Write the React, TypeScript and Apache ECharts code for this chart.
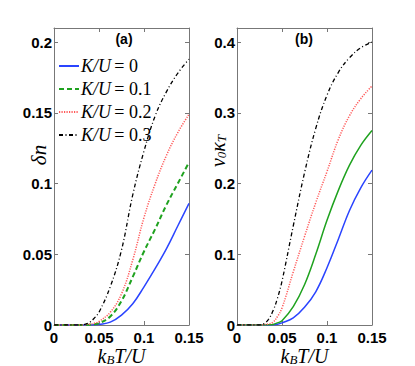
import React, { useEffect, useRef } from "react";
import * as echarts from "echarts";

const xs = [0, 0.0125, 0.025, 0.03, 0.035, 0.04, 0.045, 0.05, 0.0625, 0.075, 0.0875, 0.1, 0.1125, 0.125, 0.1375, 0.15];
const kLabels = ["0", "0.1", "0.2", "0.3"];

// panel (a): delta n
const blueA = [0, 0, 0, 0, 0, 0, 0.0001, 0.0004, 0.002, 0.007, 0.015, 0.027, 0.04, 0.054, 0.07, 0.086];
const greenA = [0, 0, 0, 0, 0, 0.0002, 0.0006, 0.0012, 0.006, 0.017, 0.034, 0.052, 0.068, 0.085, 0.1, 0.115];
const redA = [0, 0, 0, 0, 0.0002, 0.0006, 0.0013, 0.0025, 0.009, 0.022, 0.046, 0.076, 0.1, 0.12, 0.136, 0.149];
const blackA = [0, 0, 0, 0.0001, 0.0006, 0.002, 0.005, 0.009, 0.027, 0.053, 0.092, 0.123, 0.148, 0.165, 0.178, 0.188];

// panel (b): v0 kappa_T
const blueB = [0, 0, 0, 0, 0, 0.0003, 0.001, 0.003, 0.01, 0.025, 0.047, 0.081, 0.121, 0.162, 0.194, 0.219];
const greenB = [0, 0, 0, 0, 0.0002, 0.0008, 0.003, 0.006, 0.026, 0.057, 0.1, 0.148, 0.19, 0.226, 0.254, 0.275];
const redB = [0, 0, 0, 0.0005, 0.0015, 0.004, 0.012, 0.024, 0.075, 0.125, 0.173, 0.217, 0.262, 0.296, 0.32, 0.338];
const blackB = [0, 0, 0, 0.002, 0.008, 0.02, 0.038, 0.062, 0.14, 0.215, 0.278, 0.325, 0.357, 0.378, 0.392, 0.4];

const xTicks = { min: 0, max: 0.15, interval: 0.05 };
const yTicksA = { min: 0, max: 0.21, interval: 0.05 };
const yTicksB = { min: 0, max: 0.42, interval: 0.1 };

const FRAME = "#777777";
const SERIF = "'Liberation Serif', 'DejaVu Serif', serif";
const SANS = "'Liberation Sans', Arial, sans-serif";

const styles = [
  { color: "#2a44ff", type: "solid" as any, width: 1.5 },
  { color: "#1fa21f", type: [5, 3] as any, width: 2 },
  { color: "#ff5a5a", type: [1.2, 1.3] as any, width: 1.5 },
  { color: "#000000", type: [4, 2.5, 1, 2.5] as any, width: 1.3 },
];
const styles2 = [
  styles[0],
  { color: "#1fa21f", type: "solid" as any, width: 1.5 },
  styles[2],
  styles[3],
];

const zip = (ys: number[]) => xs.map((x, i) => [x, ys[i]]);

export default function App() {
  const ref = useRef<HTMLDivElement>(null);
  useEffect(() => {
    if (!ref.current) return;
    const chart = echarts.init(ref.current, null, { renderer: "svg" });

    const mkX = (grid: number, pos: "bottom" | "top") => ({
      type: "value",
      gridIndex: grid,
      position: pos,
      ...xTicks,
      axisLine: { show: true, onZero: false, lineStyle: { color: FRAME, width: 1 } },
      axisTick: { show: true, inside: true, length: 4, lineStyle: { color: FRAME } },
      axisLabel: {
        show: pos === "bottom",
        color: "#000",
        fontFamily: SANS,
        fontWeight: "bold",
        fontSize: 15,
        lineHeight: 13,
        margin: 6,
      },
      splitLine: { show: false },
    });
    const mkY = (grid: number, pos: "left" | "right", t: any) => ({
      type: "value",
      gridIndex: grid,
      position: pos,
      ...t,
      axisLine: { show: true, onZero: false, lineStyle: { color: FRAME, width: 1 } },
      axisTick: { show: true, inside: true, length: 4, lineStyle: { color: FRAME } },
      axisLabel: {
        show: pos === "left",
        showMaxLabel: false,
        color: "#000",
        fontFamily: SANS,
        fontWeight: "bold",
        fontSize: 15,
        margin: 2,
      },
      splitLine: { show: false },
    });

    const ysA = [blueA, greenA, redA, blackA];
    const ysB = [blueB, greenB, redB, blackB];
    const series: any[] = [];
    ysA.forEach((ys, i) =>
      series.push({
        type: "line",
        name: kLabels[i],
        xAxisIndex: 0,
        yAxisIndex: 0,
        data: zip(ys),
        symbol: "none",
        smooth: 0.4,
        lineStyle: styles[i],
        itemStyle: { color: styles[i].color },
      })
    );
    ysB.forEach((ys, i) =>
      series.push({
        type: "line",
        name: "b" + kLabels[i],
        xAxisIndex: 2,
        yAxisIndex: 2,
        data: zip(ys),
        symbol: "none",
        smooth: 0.4,
        lineStyle: styles2[i],
        itemStyle: { color: styles2[i].color },
      })
    );

    const richName = {
      i: { fontFamily: SERIF, fontStyle: "italic", fontSize: 20, lineHeight: 20, fill: "#000", color: "#000" },
      s: { fontFamily: SERIF, fontStyle: "italic", fontSize: 13, lineHeight: 8, verticalAlign: "bottom", fill: "#000", color: "#000" },
    };

    chart.setOption({
      animation: false,
      backgroundColor: "#ffffff",
      grid: [
        { left: 54, top: 28, width: 135, height: 297 },
        { left: 237, top: 28, width: 135, height: 297 },
      ],
      xAxis: [mkX(0, "bottom"), mkX(0, "top"), mkX(1, "bottom"), mkX(1, "top")],
      yAxis: [mkY(0, "left", yTicksA), mkY(0, "right", yTicksA), mkY(1, "left", yTicksB), mkY(1, "right", yTicksB)],
      legend: {
        data: kLabels,
        orient: "vertical",
        left: 53,
        top: 52,
        itemWidth: 20,
        itemHeight: 14,
        itemGap: 5,
        selectedMode: false,
        itemStyle: { opacity: 0 },
        formatter: (name: string) => `{i|K/U} {n|= ${name}}`,
        textStyle: {
          padding: [0, 0, 0, -3],
          rich: {
            i: { fontFamily: SERIF, fontStyle: "italic", fontSize: 18, lineHeight: 14, color: "#000" },
            n: { fontFamily: SERIF, fontSize: 18, lineHeight: 14, color: "#000" },
          },
        },
      },
      graphic: [
        { type: "text", x: 124, y: 39, style: { text: "(a)", font: `bold 14px ${SANS}`, fill: "#000", align: "center", verticalAlign: "middle" } },
        { type: "text", x: 304, y: 39, style: { text: "(b)", font: `bold 14px ${SANS}`, fill: "#000", align: "center", verticalAlign: "middle" } },
        {
          type: "text", x: 39, y: 155, rotation: Math.PI / 2,
          style: { text: "δn", font: `italic 21px ${SERIF}`, fill: "#000", align: "center", verticalAlign: "middle" },
        },
        {
          type: "text", x: 218, y: 151, rotation: Math.PI / 2,
          style: { text: "{i|v}{s|0}{i|κ}{s|T}", align: "center", verticalAlign: "middle", rich: richName },
        },
        ...[121.5, 304.5].map((cx) => ({
          type: "text", x: cx, y: 356,
          style: { text: "{i|k}{s|B}{i|T/U}", align: "center", verticalAlign: "middle", rich: richName },
        })),
      ],
      series,
    });
    return () => chart.dispose();
  }, []);
  return <div ref={ref} style={{ position: "absolute", left: 0, top: 0, width: 415, height: 366 }} />;
}
